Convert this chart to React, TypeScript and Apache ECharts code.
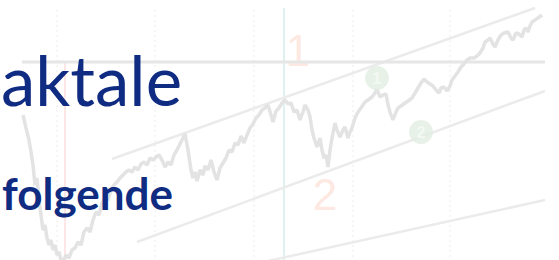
import React, { useEffect, useRef } from "react";
import * as echarts from "echarts";

// Price path: [time index, level] (level axis is inverted, read top-down)
const priceX = [23,26,29,31,33,35,37,39,41,43,45,47,49,51,53,55,57,59,61,63,66,69,72,75,78,81,84,87,90,93,96,99,102,105,108,111,114,117,120,123,126,129,132,135,138,141,144,147,150,153,156,159,162,165,168,171,174,177,180,183,185,188,191,193,195,197,200,203,205,208,211,214,217,220,223,226,229,232,235,238,241,244,247,250,253,256,259,262,265,268,271,273,276,279,282,285,288,291,294,297,300,303,305,308,310,312,314,317,320,322,324,326,328,330,332,335,337,340,343,345,348,350,352,355,358,361,365,368,372,375,377,380,383,386,388,390,393,396,398,401,405,408,412,415,418,421,424,427,430,433,436,439,441,444,447,450,452,455,458,461,464,467,470,474,477,480,483,485,488,490,493,495,498,501,504,508,511,513,516,519,522,524,526,528,530,532,535,538,542];
const priceY = [115,128,140,152,165,185,178,200,215,230,225,238,245,240,250,245,255,252,260,262,255,258,250,248,242,245,232,228,232,220,212,215,203,198,200,190,185,182,178,175,172,170,172,167,170,164,162,165,158,160,157,155,160,167,162,165,155,150,144,138,134,150,170,178,172,181,170,175,166,170,160,172,180,168,163,158,150,152,143,145,136,143,135,128,124,118,115,110,108,105,115,122,111,108,103,100,104,103,112,110,120,112,105,110,117,130,138,147,138,150,158,155,167,150,138,123,130,137,130,127,138,132,128,118,112,108,102,100,97,93,89,97,95,94,105,112,120,112,108,106,103,101,98,93,88,83,79,82,84,86,90,93,88,87,91,86,80,76,72,67,64,60,58,58,56,53,48,42,40,38,44,47,40,35,33,32,38,40,33,34,37,30,28,32,26,22,20,18,15];

// Trend lines: [x0, y0, x1, y1]
const upperChannel = [112, 159, 535, 8];
const lowerChannel = [137, 242, 545, 91];
const baseLine = [268, 261, 545, 200];
const levelLine = [22, 62, 545, 62];

// Vertical markers
const gridXs = [57, 155, 254, 353, 450];
const redMarkerX = 65;
const tealMarkerX = 284;

// Wave labels
const waveLabels = [
  { name: "1", x: 298, y: 50 },
  { name: "2", x: 325, y: 194 },
];
const waveCircles = [
  { name: "1", x: 377, y: 78 },
  { name: "2", x: 421, y: 132 },
];

const titleTop = "aktale";
const titleBottom = "folgende";

export default function App() {
  const ref = useRef<HTMLDivElement>(null);
  useEffect(() => {
    document.body.style.margin = "0";
    const chart = echarts.init(ref.current!, null, { renderer: "svg" });
    const seg = (s: number[]) => [[s[0], s[1]], [s[2], s[3]]];
    const series: any[] = [];
    gridXs.forEach((gx) => {
      series.push({
        type: "line", silent: true, showSymbol: false,
        data: [[gx, 10], [gx, 260]],
        lineStyle: { color: "#ededed", width: 1, type: [2, 3] }, z: 1,
      });
    });
    series.push({
      type: "line", showSymbol: false, data: [[redMarkerX, 62], [redMarkerX, 260]],
      lineStyle: { color: "#fbdede", width: 1.5 }, z: 1,
    });
    series.push({
      type: "line", showSymbol: false, data: [[tealMarkerX, 8], [tealMarkerX, 260]],
      lineStyle: { color: "#e0f0ee", width: 2 }, z: 1,
    });
    series.push({
      type: "scatter", symbolSize: 0, z: 2,
      data: waveLabels.map((w) => ({ value: [w.x, w.y], name: w.name })),
      label: {
        show: true, position: "inside", formatter: (p: any) => p.name,
        fontSize: 44, fontFamily: "Liberation Sans", color: "#fde4da",
      },
    });
    [upperChannel, lowerChannel, baseLine].forEach((s) => {
      series.push({
        type: "line", showSymbol: false, data: seg(s),
        lineStyle: { color: "#ebebeb", width: 2.5 }, z: 3,
      });
    });
    series.push({
      type: "line", showSymbol: false, data: seg(levelLine),
      lineStyle: { color: "#e6e6e6", width: 3 }, z: 3,
    });
    series.push({
      type: "line", showSymbol: false,
      data: priceX.map((x, i) => [x, priceY[i]]),
      lineStyle: { color: "#e3e3e3", width: 3.5 }, z: 4,
    });
    series.push({
      type: "scatter", symbolSize: 24, z: 5,
      itemStyle: { color: "#e2ede2" },
      data: waveCircles.map((w) => ({ value: [w.x, w.y], name: w.name })),
      label: {
        show: true, position: "inside", formatter: (p: any) => p.name,
        fontSize: 16, fontWeight: "bold", fontFamily: "Liberation Sans", color: "#f7fbf7",
      },
    });
    chart.setOption({
      animation: false,
      grid: { left: 0, right: 0, top: 0, bottom: 0 },
      xAxis: { type: "value", min: 0, max: 559, show: false },
      yAxis: { type: "value", min: 0, max: 260, inverse: true, show: false },
      series,
      graphic: [
        {
          type: "text", left: 1, top: 45, z: 10,
          style: { text: titleTop, font: "69px Lato", fill: "#0f2c82" },
        },
        {
          type: "text", left: 2, top: 171, z: 10,
          style: { text: titleBottom, font: "bold 44px Lato", fill: "#0f2c82" },
        },
      ],
    });
    return () => chart.dispose();
  }, []);
  return <div ref={ref} style={{ width: 559, height: 260, background: "#fff" }} />;
}
